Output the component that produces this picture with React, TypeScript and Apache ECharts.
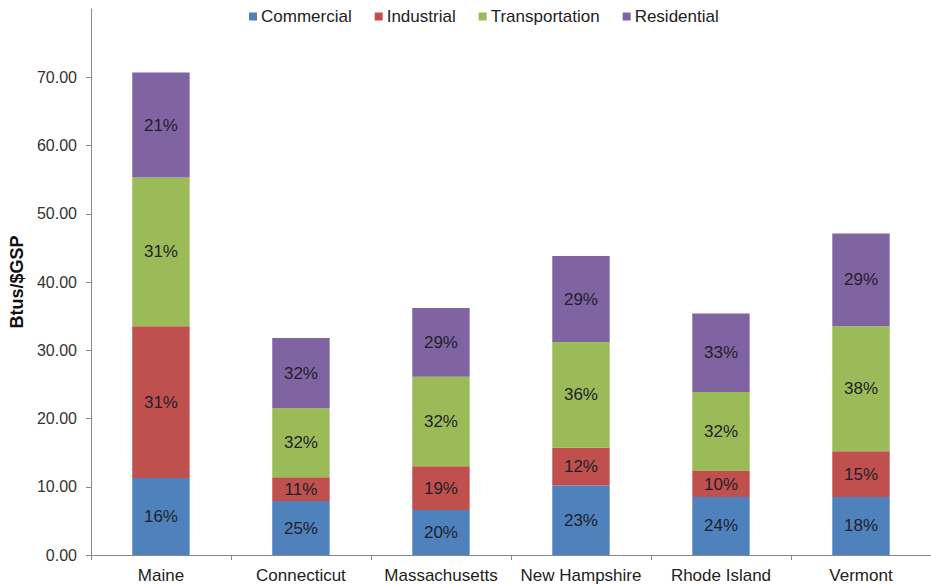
import React, { useEffect, useRef } from "react";
import * as echarts from "echarts";

const states = ["Maine", "Connecticut", "Massachusetts", "New Hampshire", "Rhode Island", "Vermont"];
const commercial = [11.3, 7.9, 6.6, 10.2, 8.5, 8.5];
const industrial = [22.2, 3.5, 6.4, 5.5, 3.8, 6.7];
const transportation = [21.8, 10.1, 13.1, 15.5, 11.6, 18.3];
const residential = [15.4, 10.3, 10.1, 12.6, 11.5, 13.6];
const commercialPct = ["16%", "25%", "20%", "23%", "24%", "18%"];
const industrialPct = ["31%", "11%", "19%", "12%", "10%", "15%"];
const transportationPct = ["31%", "32%", "32%", "36%", "32%", "38%"];
const residentialPct = ["21%", "32%", "29%", "29%", "33%", "29%"];
const yTicks = [0, 10, 20, 30, 40, 50, 60, 70];

const FONT = "'Liberation Sans', Arial, sans-serif";

export default function App() {
  const ref = useRef<HTMLDivElement>(null);
  useEffect(() => {
    if (!ref.current) return;
    const chart = echarts.init(ref.current, undefined, { renderer: "svg" });
    const mk = (name: string, data: number[], pct: string[], color: string) => ({
      name,
      type: "bar",
      stack: "total",
      barWidth: "41%",
      data,
      itemStyle: { color },
      label: {
        show: true,
        position: "inside",
        formatter: (p: any) => pct[p.dataIndex],
        color: "#1f1f2a",
        fontSize: 17,
        fontFamily: FONT,
      },
    });
    chart.setOption({
      animation: false,
      textStyle: { fontFamily: FONT },
      legend: {
        top: 3,
        left: 244,
        itemWidth: 8,
        itemHeight: 8,
        itemGap: 23,
        icon: "rect",
        textStyle: { fontSize: 17, color: "#222", fontFamily: FONT, padding: [0, 0, 0, -1] },
        data: ["Commercial", "Industrial", "Transportation", "Residential"],
      },
      grid: { left: 89, right: 0, top: 9, bottom: 29, containLabel: false },
      xAxis: {
        type: "category",
        data: states,
        axisLine: { lineStyle: { color: "#888", width: 1 } },
        axisTick: { show: true, alignWithLabel: false, length: 5, lineStyle: { color: "#888" }, inside: false },
        axisLabel: { color: "#222", fontSize: 17, fontFamily: FONT, margin: 12, interval: 0, hideOverlap: false },
      },
      yAxis: {
        type: "value",
        min: 0,
        max: 80,
        interval: 10,
        name: "Btus/$GSP",
        nameLocation: "middle",
        nameGap: 62,
        nameRotate: 90,
        nameTextStyle: { fontSize: 18, fontWeight: "bold", color: "#111", fontFamily: FONT },
        axisLine: { show: true, lineStyle: { color: "#888", width: 1 } },
        axisTick: { show: true, length: 5, lineStyle: { color: "#888" }, customValues: yTicks },
        splitLine: { show: false },
        axisLabel: {
          color: "#333",
          fontSize: 16,
          fontFamily: FONT,
          margin: 14,
          customValues: yTicks,
          formatter: (v: number) => v.toFixed(2),
        },
      },
      series: [
        mk("Commercial", commercial, commercialPct, "#4F81BD"),
        mk("Industrial", industrial, industrialPct, "#C0504D"),
        mk("Transportation", transportation, transportationPct, "#9BBB59"),
        mk("Residential", residential, residentialPct, "#8064A2"),
      ],
    });
    return () => chart.dispose();
  }, []);
  return <div ref={ref} style={{ width: 931, height: 584, position: "absolute", left: 0, top: 0 }} />;
}
